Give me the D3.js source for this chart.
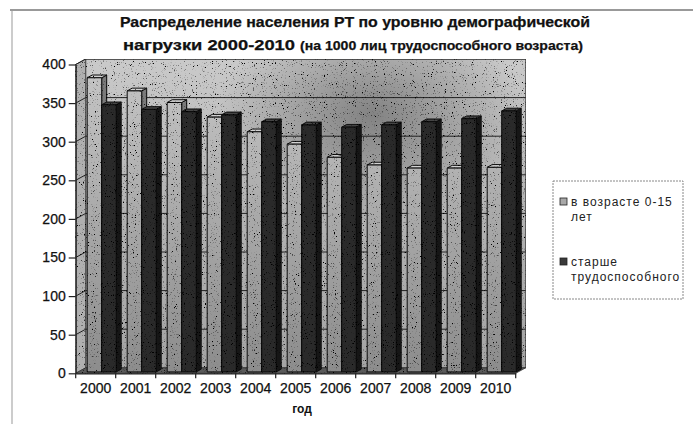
<!DOCTYPE html>
<html>
<head>
<meta charset="utf-8">
<script src="https://cdn.jsdelivr.net/npm/d3@7"></script>
<style>
  body { margin: 0; background: #fff; }
  svg { display: block; font-family: Arial, "Liberation Sans", sans-serif; }
</style>
</head>
<body>
<svg id="chart" width="693" height="424"></svg>
<script>
// data
const years = ['2000', '2001', '2002', '2003', '2004', '2005', '2006', '2007', '2008', '2009', '2010'];
const young = [381, 364, 349, 330, 311, 295, 278, 268, 264, 264, 265];
const old = [346, 340, 337, 333, 324, 320, 317, 320, 324, 328, 338];
const seriesNames = [['в возрасте 0-15', 'лет'], ['старше', 'трудоспособного']];
const yTicks = [0, 50, 100, 150, 200, 250, 300, 350, 400];

const svg = d3.select('#chart');
const defs = svg.append('defs');

// depth of the 3d box
const dx = 10;
const dy = -5.5;

const x0 = d3.scaleBand().domain(years).range([75.7, 515.7]);
const x1 = d3.scaleBand().domain(['young', 'old']).range([9, 38]);
const y = d3.scaleLinear().domain([0, 400]).range([373.3, 64.5]);

// wall shading, like the scanned print
const wallGrad = defs.append('linearGradient').attr('id', 'wall').attr('x1', 0).attr('y1', 0).attr('x2', 0).attr('y2', 1);
wallGrad.append('stop').attr('offset', '0%').attr('stop-color', '#cacaca');
wallGrad.append('stop').attr('offset', '50%').attr('stop-color', '#b2b2b2');
wallGrad.append('stop').attr('offset', '100%').attr('stop-color', '#a4a4a4');
const spot = defs.append('radialGradient').attr('id', 'spot').attr('cx', 0.65).attr('cy', 0.18).attr('r', 0.35);
spot.append('stop').attr('offset', '0%').attr('stop-color', '#444').attr('stop-opacity', 0.5);
spot.append('stop').attr('offset', '100%').attr('stop-color', '#444').attr('stop-opacity', 0);
const lightGrad = defs.append('linearGradient').attr('id', 'lightBar').attr('gradientUnits', 'userSpaceOnUse')
  .attr('x1', 0).attr('y1', y(400)).attr('x2', 0).attr('y2', y(0));
lightGrad.append('stop').attr('offset', '0%').attr('stop-color', '#c6c6c6');
lightGrad.append('stop').attr('offset', '55%').attr('stop-color', '#a6a6a6');
lightGrad.append('stop').attr('offset', '100%').attr('stop-color', '#8c8c8c');

const noise = defs.append('filter').attr('id', 'grain').attr('x', 0).attr('y', 0).attr('width', 1).attr('height', 1);
noise.append('feTurbulence').attr('type', 'fractalNoise').attr('baseFrequency', 0.9).attr('numOctaves', 2).attr('seed', 4).attr('result', 'n');
noise.append('feColorMatrix').attr('in', 'n').attr('type', 'matrix')
  .attr('values', '0 0 0 0 0  0 0 0 0 0  0 0 0 0 0  -7 0 0 0 2.6').attr('result', 'dots');
noise.append('feComposite').attr('in', 'dots').attr('in2', 'SourceGraphic').attr('operator', 'in').attr('result', 'dm');
noise.append('feMerge').selectAll('feMergeNode').data(['SourceGraphic', 'dm']).enter()
  .append('feMergeNode').attr('in', d => d);

// frame
svg.append('line').attr('x1', 10).attr('x2', 693).attr('y1', 10).attr('y2', 10).attr('stroke', '#777').attr('stroke-width', 1.3);
svg.append('line').attr('x1', 12).attr('x2', 12).attr('y1', 10).attr('y2', 424).attr('stroke', '#999').attr('stroke-width', 1);

const ink = '#111';

// title
const title = svg.append('g').attr('font-weight', 'bold').attr('fill', ink).attr('stroke', ink).attr('stroke-width', 0.25);
title.append('text').attr('x', 120).attr('y', 27).attr('font-size', 14.5)
  .attr('textLength', 470).attr('lengthAdjust', 'spacingAndGlyphs')
  .text('Распределение населения РТ по уровню демографической');
title.append('text').attr('x', 123).attr('y', 50).attr('font-size', 14.5)
  .attr('textLength', 172).attr('lengthAdjust', 'spacingAndGlyphs')
  .text('нагрузки 2000-2010');
title.append('text').attr('x', 300).attr('y', 50).attr('font-size', 12.5)
  .attr('textLength', 283).attr('lengthAdjust', 'spacingAndGlyphs')
  .text('(на 1000 лиц трудоспособного возраста)');

const x0L = x0.range()[0];
const x0R = x0.range()[1];
const yTop = y(400);
const yBot = y(0);

const box = svg.append('g').attr('filter', 'url(#grain)');
// back wall
box.append('rect').attr('x', x0L + dx).attr('y', yTop + dy).attr('width', x0R - x0L).attr('height', yBot - yTop)
  .attr('fill', 'url(#wall)').attr('stroke', '#333').attr('stroke-width', 0.8);
box.append('rect').attr('x', x0L + dx).attr('y', yTop + dy).attr('width', x0R - x0L).attr('height', yBot - yTop)
  .attr('fill', 'url(#spot)');
// side wall
box.append('polygon').attr('points', [[x0L, yTop], [x0L + dx, yTop + dy], [x0L + dx, yBot + dy], [x0L, yBot]].join(' '))
  .attr('fill', '#b0b0b0').attr('stroke', '#333').attr('stroke-width', 0.8);
// floor
box.append('polygon').attr('points', [[x0L, yBot], [x0R, yBot], [x0R + dx, yBot + dy], [x0L + dx, yBot + dy]].join(' '))
  .attr('fill', '#5a5a5a').attr('stroke', '#333').attr('stroke-width', 0.8);

// gridlines on side and back walls
const grid = box.append('g').attr('stroke', '#222').attr('stroke-width', 1).attr('fill', 'none');
grid.selectAll('polyline').data(yTicks.slice(1)).enter().append('polyline')
  .attr('points', d => [[x0L, y(d)], [x0L + dx, y(d) + dy], [x0R + dx, y(d) + dy]].join(' '));

// bars
const rows = years.map((yr, i) => ({ year: yr, young: young[i], old: old[i] }));
const bx = 2.5;
const by = -1.4;
const ddx = 5;
const ddy = -2.75;
const fills = { young: ['url(#lightBar)', '#d2d2d2', '#7a7a7a'], old: ['#2a2a2a', '#444', '#161616'] };
const bars = box.append('g').attr('stroke', '#0c0c0c').attr('stroke-width', 1).attr('stroke-linejoin', 'round');
rows.forEach(r => {
  ['young', 'old'].forEach(k => {
    const x = x0(r.year) + x1(k) + bx;
    const w = x1.bandwidth();
    const t = y(r[k]) + by;
    const b = y(0) + by;
    const g = bars.append('g');
    g.append('polygon').attr('points', [[x + w, t], [x + w + ddx, t + ddy], [x + w + ddx, b + ddy], [x + w, b]].join(' ')).attr('fill', fills[k][2]);
    g.append('polygon').attr('points', [[x, t], [x + ddx, t + ddy], [x + w + ddx, t + ddy], [x + w, t]].join(' ')).attr('fill', fills[k][1]);
    g.append('rect').attr('x', x).attr('y', t).attr('width', w).attr('height', b - t).attr('fill', fills[k][0]);
  });
});

// y axis
const yAxis = svg.append('g').attr('transform', `translate(${x0L},0)`)
  .call(d3.axisLeft(y).tickValues(yTicks).tickSize(7).tickSizeOuter(0));
yAxis.select('.domain').attr('stroke', '#222').attr('stroke-width', 1.2);
yAxis.selectAll('.tick line').attr('stroke', '#222').attr('stroke-width', 1.2);
yAxis.selectAll('.tick text').attr('font-size', 14).attr('font-family', 'Arial, "Liberation Sans", sans-serif')
  .attr('fill', ink).attr('stroke', ink).attr('stroke-width', 0.25).attr('x', -10);

// x axis: labels centred, ticks on category edges
const xAxis = svg.append('g').attr('transform', `translate(0,${yBot})`)
  .call(d3.axisBottom(x0).tickSize(0).tickPadding(10));
xAxis.select('.domain').attr('stroke', '#222').attr('stroke-width', 1.2);
xAxis.selectAll('.tick text').attr('font-size', 14).attr('font-family', 'Arial, "Liberation Sans", sans-serif')
  .attr('fill', ink).attr('stroke', ink).attr('stroke-width', 0.25);
xAxis.selectAll('line.edge').data(years.map(d => x0(d)).concat([x0R])).enter().append('line')
  .attr('class', 'edge').attr('x1', d => d).attr('x2', d => d).attr('y1', 0).attr('y2', 5)
  .attr('stroke', '#222').attr('stroke-width', 1.2);

svg.append('text').attr('x', 302).attr('y', 413).attr('text-anchor', 'middle')
  .attr('font-size', 12).attr('font-weight', 'bold').attr('fill', ink).text('год');

// legend
const legend = svg.append('g');
legend.append('rect').attr('x', 553).attr('y', 181).attr('width', 130).attr('height', 118)
  .attr('fill', '#fff').attr('stroke', '#888').attr('stroke-width', 1).attr('stroke-dasharray', '2,1');
const items = [
  { lines: seriesNames[0], fill: '#a8a8a8', y: 206 },
  { lines: seriesNames[1], fill: '#3a3a3a', y: 266 },
];
const li = legend.selectAll('g.item').data(items).enter().append('g').attr('class', 'item');
li.append('rect').attr('x', 560).attr('y', d => d.y - 8).attr('width', 7).attr('height', 7)
  .attr('fill', d => d.fill).attr('stroke', '#222').attr('stroke-width', 0.8);
li.append('text').attr('font-size', 12).attr('fill', '#222').attr('letter-spacing', 1)
  .selectAll('tspan').data(d => d.lines.map((l, i) => ({ l, y: d.y + i * 15 }))).enter().append('tspan')
  .attr('x', 571).attr('y', d => d.y).text(d => d.l);
</script>
</body>
</html>
